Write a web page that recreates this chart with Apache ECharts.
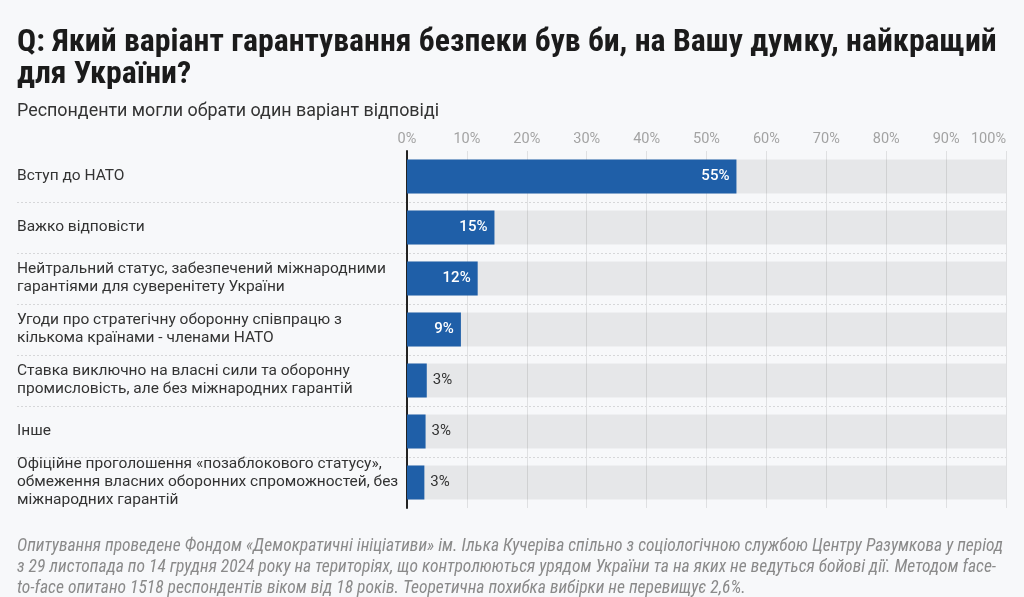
<!DOCTYPE html>
<html>
<head>
<meta charset="utf-8">
<script src="https://cdn.jsdelivr.net/npm/echarts@6/dist/echarts.min.js"></script>
<style>
html,body{margin:0;padding:0;background:#f7f8fa;}
#c{width:1024px;height:597px;}
</style>
</head>
<body>
<div id="c"></div>
<script>
const categories = [
  'Вступ до НАТО',
  'Важко відповісти',
  'Нейтральний статус, забезпечений міжнародними\nгарантіями для суверенітету України',
  'Угоди про стратегічну оборонну співпрацю з\nкількома країнами - членами НАТО',
  'Ставка виключно на власні сили та оборонну\nпромисловість, але без міжнародних гарантій',
  'Інше',
  'Офіційне проголошення «позаблокового статусу»,\nобмеження власних оборонних спроможностей, без\nміжнародних гарантій'
];
const values = [55, 14.6, 11.8, 9, 3.3, 3.1, 2.9];
const valueLabels = ['55%', '15%', '12%', '9%', '3%', '3%', '3%'];
const tickLabels = ['0%','10%','20%','30%','40%','50%','60%','70%','80%','90%','100%'];

const titleText = 'Q: Який варіант гарантування безпеки був би, на Вашу думку, найкращий\nдля України?';
const subtitleText = 'Респонденти могли обрати один варіант відповіді';
const noteText = 'Опитування проведене Фондом «Демократичні ініціативи» ім. Ілька Кучеріва спільно з соціологічною службою Центру Разумкова у період\nз 29 листопада по 14 грудня 2024 року на територіях, що контролюються урядом України та на яких не ведуться бойові дії. Методом face-\nto-face опитано 1518 респондентів віком від 18 років. Теоретична похибка вибірки не перевищує 2,6%.';

const FONT = 'Roboto, "Noto Sans", sans-serif';
const COND = '"Roboto Condensed", "Liberation Sans Narrow", "DejaVu Sans Condensed", Roboto, sans-serif';

const chart = echarts.init(document.getElementById('c'), null, {renderer: 'canvas'});

const gridTop = 151, gridBottom = 597 - 508;

const data = values.map((v, i) => {
  const inside = v >= 6;
  return {
    value: v,
    label: {
      show: true,
      formatter: valueLabels[i],
      position: inside ? 'insideRight' : 'right',
      distance: inside ? 7 : 6,
      color: inside ? '#ffffff' : '#333333',
      fontWeight: inside ? 500 : 400,
      fontSize: 15,
      fontFamily: FONT
    }
  };
});

chart.setOption({
  backgroundColor: '#f7f8fa',
  animation: false,
  title: [
    {
      text: titleText,
      left: 12, top: 22,
      textStyle: {fontFamily: COND, fontWeight: 'bold', fontSize: 31.8, lineHeight: 32, color: '#1b1b1b'}
    },
    {
      text: subtitleText,
      left: 12, top: 98,
      textStyle: {fontFamily: FONT, fontWeight: 'normal', fontSize: 17.9, color: '#333333'}
    },
    {
      text: noteText,
      left: 12, top: 531,
      textStyle: {fontFamily: COND, fontStyle: 'italic', fontWeight: 'normal', fontSize: 17.5, lineHeight: 21, color: '#8a8a8a'}
    }
  ],
  grid: [
    {left: 407, right: 18, top: gridTop, bottom: gridBottom, containLabel: false},
    {left: 17, right: 18, top: gridTop, bottom: gridBottom, containLabel: false}
  ],
  xAxis: [
    {
      gridIndex: 0,
      type: 'value', min: 0, max: 100, interval: 10,
      position: 'top',
      axisLine: {show: false}, axisTick: {show: false},
      axisLabel: {
        color: '#a3a3a3', fontSize: 14.5, fontFamily: FONT, margin: 4,
        alignMaxLabel: 'right',
        formatter: (v) => tickLabels[Math.round(v / 10)]
      },
      splitLine: {show: true, lineStyle: {color: '#dfe0e2', width: 1}}
    },
    {
      gridIndex: 1, type: 'value', min: 0, max: 100, show: false
    }
  ],
  yAxis: [
    {
      gridIndex: 0,
      type: 'category', data: categories, inverse: true,
      axisLine: {show: true, lineStyle: {color: '#222', width: 2}},
      axisTick: {show: false},
      axisLabel: {
        align: 'left', margin: 390, fontSize: 15.5, lineHeight: 18,
        color: '#333333', fontFamily: FONT
      },
      splitLine: {show: false}
    },
    {
      gridIndex: 1,
      type: 'category', data: categories, inverse: true,
      axisLine: {show: false}, axisTick: {show: false}, axisLabel: {show: false},
      splitLine: {show: true, showMinLine: false, showMaxLine: false,
        lineStyle: {color: '#d6d7d9', type: [2, 2], width: 1}}
    }
  ],
  series: [
    {
      type: 'bar',
      xAxisIndex: 0, yAxisIndex: 0,
      data: data,
      barWidth: 34,
      itemStyle: {color: '#1f5fa8'},
      showBackground: true,
      backgroundStyle: {color: 'rgba(0,0,0,0.065)'},
      z: 3
    }
  ]
});
</script>
</body>
</html>
